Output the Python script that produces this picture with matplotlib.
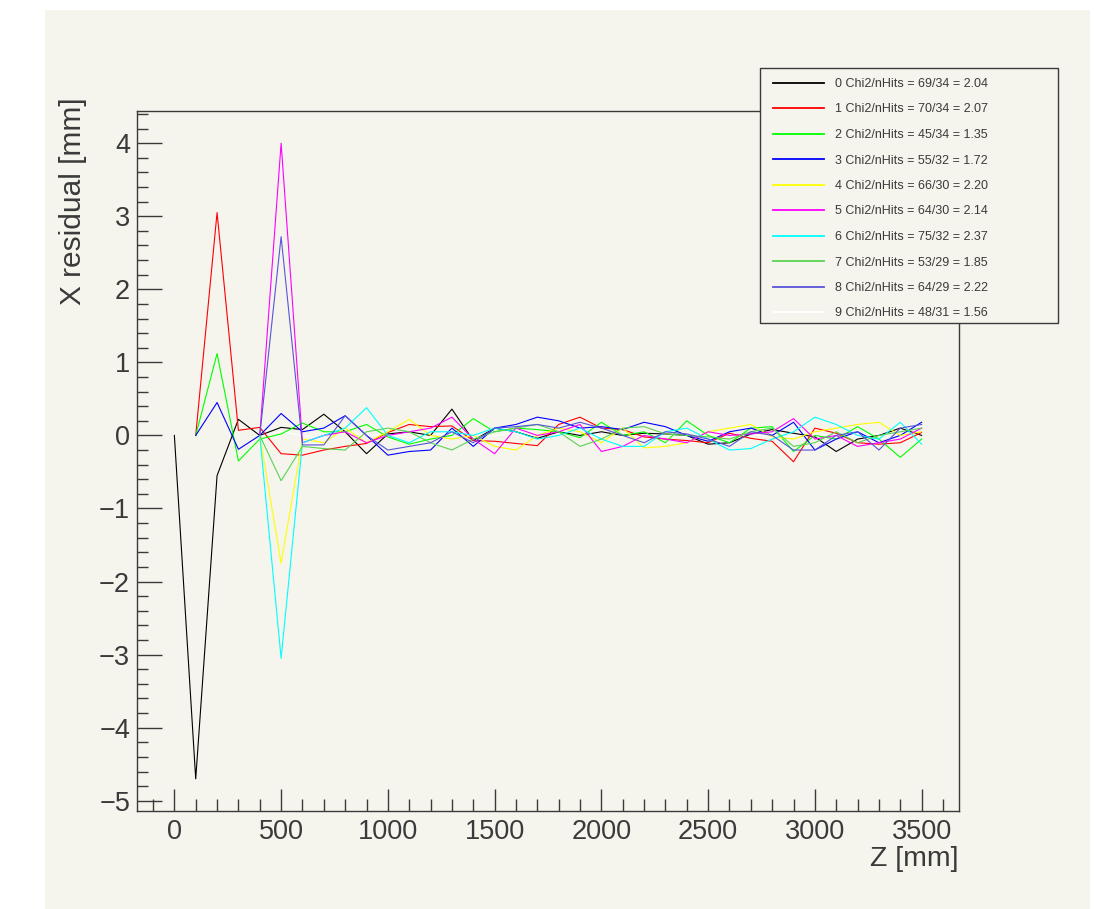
import matplotlib
matplotlib.use("Agg")
import matplotlib.pyplot as plt
from matplotlib.patches import Rectangle
from matplotlib.ticker import MultipleLocator

plt.rcParams['font.family'] = ['Liberation Sans', 'DejaVu Sans']

# ---------------- data ----------------
z_all = [0, 100, 200, 300, 400, 500, 600, 700, 800, 900, 1000, 1100, 1200, 1300, 1400,
         1500, 1600, 1700, 1800, 1900, 2000, 2100, 2200, 2300, 2400, 2500, 2600, 2700,
         2800, 2900, 3000, 3100, 3200, 3300, 3400, 3500]

labels = ["0 Chi2/nHits = 69/34 = 2.04", "1 Chi2/nHits = 70/34 = 2.07",
          "2 Chi2/nHits = 45/34 = 1.35", "3 Chi2/nHits = 55/32 = 1.72",
          "4 Chi2/nHits = 66/30 = 2.20", "5 Chi2/nHits = 64/30 = 2.14",
          "6 Chi2/nHits = 75/32 = 2.37", "7 Chi2/nHits = 53/29 = 1.85",
          "8 Chi2/nHits = 64/29 = 2.22", "9 Chi2/nHits = 48/31 = 1.56"]

start_z = [0, 100, 100, 100, 400, 400, 400, 400, 400, 400]

res0 = [0, -4.7, -0.55, 0.22, 0.0, 0.11, 0.08, 0.29, 0.05, -0.25, 0.02, 0.05, 0.0, 0.36,
        -0.07, 0.1, 0.05, -0.04, 0.05, 0.0, 0.05, 0.0, 0.03, 0.02, 0.0, -0.12, -0.1, 0.02,
        0.08, 0.03, -0.02, -0.22, -0.05, 0.0, 0.1, 0.0]
res1 = [0, 3.05, 0.07, 0.11, -0.25, -0.27, -0.2, -0.15, -0.11, 0.04, 0.15, 0.12, 0.13,
        -0.07, -0.08, -0.11, -0.14, 0.15, 0.25, 0.1, 0.08, -0.02, -0.05, -0.07, -0.1, 0.03,
        -0.04, -0.08, -0.36, 0.1, 0.03, -0.1, -0.12, -0.1, 0.04]
res2 = [0, 1.12, -0.35, -0.05, 0.02, 0.17, 0.05, 0.05, 0.15, -0.02, -0.12, -0.05, 0.0,
        0.23, 0.05, 0.1, 0.08, 0.05, -0.03, 0.18, 0.0, 0.05, -0.1, 0.2, 0.0, -0.1, 0.1,
        0.12, -0.22, 0.0, -0.05, 0.12, -0.05, -0.3, -0.05]
res3 = [0, 0.45, -0.19, 0.0, 0.3, 0.05, 0.1, 0.27, 0.0, -0.27, -0.22, -0.2, 0.1, -0.15,
        0.1, 0.15, 0.25, 0.2, 0.1, 0.12, 0.08, 0.18, 0.12, 0.0, -0.08, 0.05, 0.1, 0.0,
        0.18, -0.2, -0.05, 0.05, -0.1, 0.0, 0.18]
res4 = [0, -1.75, -0.05, -0.1, 0.1, -0.1, 0.05, 0.22, 0.0, -0.05, 0.0, -0.15, -0.2, 0.0,
        0.1, 0.05, -0.1, 0.1, -0.17, -0.15, -0.1, 0.05, 0.1, 0.15, -0.02, -0.05, 0.05,
        0.1, 0.15, 0.18, 0.0, 0.05]
res5 = [0, 4.0, -0.1, 0.0, 0.05, -0.1, 0.0, 0.05, 0.1, 0.25, -0.05, -0.25, 0.1, 0.0,
        0.05, 0.15, -0.22, -0.15, 0.0, -0.05, -0.1, 0.05, 0.0, 0.02, 0.05, 0.23, -0.05,
        0.0, -0.15, -0.1, -0.05, 0.1]
res6 = [0, -3.05, -0.1, 0.0, 0.1, 0.38, 0.0, -0.1, 0.05, 0.05, 0.0, 0.1, 0.05, -0.05,
        0.0, 0.1, -0.05, -0.15, -0.15, 0.05, 0.1, -0.05, -0.2, -0.18, -0.05, 0.05, 0.25,
        0.15, 0.0, -0.05, 0.18, -0.12]
res7 = [0, -0.62, -0.15, -0.18, -0.2, 0.05, 0.1, 0.05, -0.1, -0.2, -0.05, 0.05, 0.1,
        0.15, 0.05, -0.15, -0.05, 0.1, 0.12, 0.02, 0.0, -0.02, -0.05, 0.05, 0.1, -0.15,
        -0.1, 0.05, -0.1, 0.0, 0.05, 0.1]
res8 = [0, 2.72, -0.13, -0.13, 0.27, 0.0, -0.2, -0.15, -0.1, 0.05, -0.1, 0.1, 0.12,
        0.15, 0.1, 0.18, 0.1, 0.0, -0.1, 0.05, 0.02, -0.05, -0.15, 0.05, 0.0, -0.2, -0.2,
        0.0, 0.05, -0.2, 0.1, 0.15]
res9 = [0, 0.05, 0.0, -0.05, 0.05, 0.0, 0.02, -0.03, 0.0, 0.05, -0.02, 0.0, 0.03, -0.05,
        0.0, 0.02, 0.0, -0.03, 0.05, 0.0, -0.02, 0.02, 0.0, 0.03, -0.03, 0.0, 0.02, 0.0,
        -0.02, 0.03, 0.0, 0.0]

residuals = [res0, res1, res2, res3, res4, res5, res6, res7, res8, res9]
colors = ['#000000', '#ff0000', '#00ff00', '#0000ff', '#ffff00', '#ff00ff',
          '#00ffff', '#59d454', '#5954d9', '#ffffff']

BG = '#f5f4ed'
TXT = '#3a3a3a'

# ---------------- figure ----------------
fig = plt.figure(figsize=(10.98, 9.09), dpi=100, facecolor='white')
fig.patches.append(Rectangle((45 / 1098, 0), (1090 - 45) / 1098, 1 - 10 / 909,
                             transform=fig.transFigure, facecolor=BG, edgecolor='none',
                             zorder=-5))

ax = fig.add_axes([137 / 1098, 1 - 811 / 909, (959 - 137) / 1098, (811 - 111) / 909])
ax.set_facecolor(BG)

handles = []
for i, (res, c, s, lab) in enumerate(zip(residuals, colors, start_z, labels)):
    i0 = z_all.index(s)
    zz = z_all[i0:i0 + len(res)]
    ln, = ax.plot(zz, res, color=c, lw=0.8, label=lab, zorder=(1 if i == 9 else 2 + i))
    handles.append(ln)

ax.set_xlim(-175, 3675)
ax.set_ylim(-5.14, 4.44)

ax.xaxis.set_major_locator(MultipleLocator(500))
ax.xaxis.set_minor_locator(MultipleLocator(100))
ax.yaxis.set_major_locator(MultipleLocator(1))
ax.yaxis.set_minor_locator(MultipleLocator(0.2))

ax.tick_params(axis='both', which='both', direction='in', colors=TXT, width=1.0,
               top=False, right=False)
ax.tick_params(axis='y', which='major', length=18, pad=5, labelsize=19.5)
ax.tick_params(axis='y', which='minor', length=8)
ax.tick_params(axis='x', which='major', length=16, pad=6, labelsize=19.5)
ax.tick_params(axis='x', which='minor', length=8.5)
for sp in ax.spines.values():
    sp.set_color(TXT)
    sp.set_linewidth(1.0)

ax.set_xlabel('Z [mm]', fontsize=20.5, color=TXT, loc='right')
ax.xaxis.set_label_coords(1.0, -0.05)
ax.set_ylabel('X residual [mm]', fontsize=21.5, color=TXT, loc='top')
ax.yaxis.set_label_coords(-0.061, 1.02)

# legend box
fig.patches.append(Rectangle((760 / 1098, 1 - 323 / 909), (1058 - 760) / 1098,
                             (323 - 68) / 909, transform=fig.transFigure,
                             facecolor=BG, edgecolor=TXT, lw=1.0, zorder=5))
leg = fig.legend(handles=handles, loc='upper left',
                 bbox_to_anchor=(768 / 1098, 1 - 73 / 909), frameon=False,
                 fontsize=9, handlelength=4.08, handletextpad=0.88,
                 labelspacing=1.08, borderpad=0.4, borderaxespad=0)
leg.set_zorder(6)
for t in leg.get_texts():
    t.set_color(TXT)
for hl in leg.get_lines():
    hl.set_linewidth(1.3)

fig.savefig('out.png', dpi=100, facecolor='white')
